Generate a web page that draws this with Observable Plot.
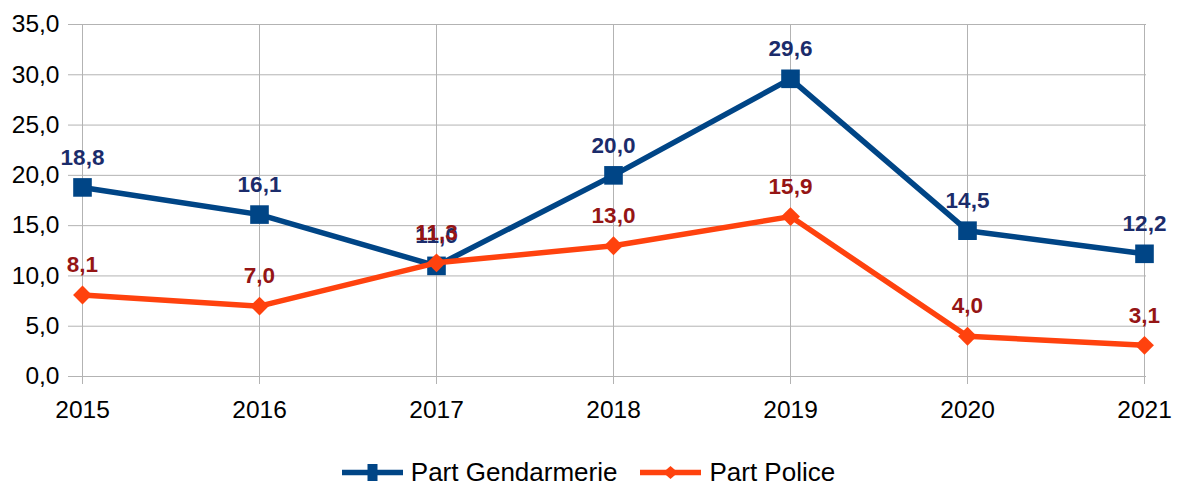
<!DOCTYPE html>
<html><head><meta charset="utf-8">
<script src="https://cdn.jsdelivr.net/npm/d3@7"></script>
<script src="https://cdn.jsdelivr.net/npm/@observablehq/plot@0.6"></script>
<style>
html,body{margin:0;padding:0;overflow:hidden;background:#fff;font-family:"Liberation Sans",Arial,sans-serif;}
#chart svg{display:block;max-width:none !important;}
#legend{height:25px;display:flex;justify-content:center;align-items:center;font-size:26px;color:#000;}
.item{display:flex;align-items:center;}
.item svg{margin-right:8px;}
.item + .item{margin-left:23px;}
</style></head><body>
<div id="chart"></div>
<div id="legend"></div>
<script>
const years = ["2015","2016","2017","2018","2019","2020","2021"];
const gendarmerie = [18.8, 16.1, 11.0, 20.0, 29.6, 14.5, 12.2];
const police = [8.1, 7.0, 11.3, 13.0, 15.9, 4.0, 3.1];
const yTicks = [0, 5, 10, 15, 20, 25, 30, 35];
const seriesNames = ["Part Gendarmerie", "Part Police"];
const lineColors = ["#004586", "#ff420e"];
const labelColors = ["#1b2c6b", "#951515"];

const fmt = d => d.toFixed(1).replace(".", ",");
const gData = years.map((y, i) => ({year: y, value: gendarmerie[i]}));
const pData = years.map((y, i) => ({year: y, value: police[i]}));

const chart = Plot.plot({
  width: 1177,
  height: 460,
  marginLeft: 79,
  marginRight: 31,
  marginTop: 24,
  marginBottom: 84,
  style: {fontFamily: "Liberation Sans, Arial, sans-serif", fontSize: "24px", background: "#fff", color: "#000"},
  x: {type: "point", domain: years, padding: 0, range: [79, 1146], label: null},
  y: {domain: [0, 35], range: [376, 24], label: null},
  marks: [
    Plot.ruleY(yTicks, {stroke: "#b3b3b3", strokeWidth: 1, insetLeft: -11}),
    Plot.ruleX(years, {stroke: "#b3b3b3", strokeWidth: 1, insetBottom: -8}),
    Plot.axisY({ticks: yTicks, tickSize: 0, tickPadding: 20, tickFormat: fmt, fontSize: 24.5, fill: "#000", label: null}),
    Plot.axisX({tickSize: 0, tickPadding: 24, fontSize: 24.5, fill: "#000", label: null}),
    Plot.line(gData, {x: "year", y: "value", stroke: lineColors[0], strokeWidth: 5.5, strokeLinejoin: "miter", strokeLinecap: "butt"}),
    Plot.dot(gData, {x: "year", y: "value", symbol: "square", r: 10.5, fill: lineColors[0], stroke: "none"}),
    Plot.line(pData, {x: "year", y: "value", stroke: lineColors[1], strokeWidth: 5.5, strokeLinejoin: "miter", strokeLinecap: "butt"}),
    Plot.dot(pData, {x: "year", y: "value", symbol: "diamond2", r: 8.5, fill: lineColors[1], stroke: "none"}),
    Plot.text(gData, {x: "year", y: "value", text: d => fmt(d.value), dy: -30, fontSize: 22.5, fontWeight: "bold", fill: labelColors[0]}),
    Plot.text(pData, {x: "year", y: "value", text: d => fmt(d.value), dy: -30, fontSize: 22.5, fontWeight: "bold", fill: labelColors[1]})
  ]
});
document.getElementById("chart").appendChild(chart);

const legend = document.getElementById("legend");
seriesNames.forEach((name, i) => {
  const item = document.createElement("div");
  item.className = "item";
  const marker = i === 0
    ? `<rect x="25.5" y="2" width="10" height="17" fill="${lineColors[0]}"/>`
    : `<path d="M30.5 4 L38 10.5 L30.5 17 L23 10.5 Z" fill="${lineColors[1]}"/>`;
  item.innerHTML = `<svg width="61" height="21"><line x1="0" x2="61" y1="10.5" y2="10.5" stroke="${lineColors[i]}" stroke-width="5.5"/>${marker}</svg><span>${name}</span>`;
  legend.appendChild(item);
});
</script>
</body></html>
